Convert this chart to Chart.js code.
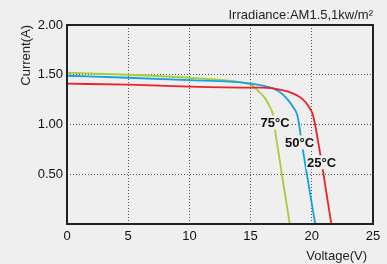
<!DOCTYPE html>
<html>
<head>
<meta charset="utf-8">
<script src="https://cdn.jsdelivr.net/npm/chart.js@4.4.1/dist/chart.umd.min.js"></script>
<style>
    html, body { margin: 0; padding: 0; background: #efefef; }
    #wrap { width: 387px; height: 264px; position: relative; }
</style>
</head>
<body>
<div id="wrap"><canvas id="ivChart"></canvas></div>
<script>
// I-V curves, voltage in V, current in A
const v25 = [0, 5, 10, 15, 16, 17.4, 18.5, 19.2, 19.7, 20.05, 20.25, 21.6];
const i25 = [1.41, 1.40, 1.38, 1.37, 1.37, 1.35, 1.31, 1.26, 1.19, 1.11, 1.01, 0];
const v50 = [0, 5, 10, 13.3, 15, 16, 16.9, 17.55, 18.1, 18.5, 18.8, 18.95, 19.1, 20.28];
const i50 = [1.49, 1.47, 1.445, 1.43, 1.41, 1.39, 1.36, 1.31, 1.24, 1.17, 1.10, 1.01, 0.88, 0];
const v75 = [0, 5, 10, 13.3, 14.4, 15.05, 15.6, 16.2, 16.6, 16.8, 17.06, 18.2];
const i75 = [1.52, 1.50, 1.47, 1.44, 1.42, 1.40, 1.34, 1.26, 1.17, 1.11, 0.89, 0];

const xTicks = [0, 5, 10, 15, 20, 25];
const yTicks = [0.5, 1.0, 1.5, 2.0];

const curveLabels = ['75°C', '50°C', '25°C'];
const labelV = [17.0, 19.0, 20.8];
const labelI = [1.02, 0.82, 0.62];

const titleText = 'Irradiance:AM1.5,1kw/m²';
const FONT = '"Liberation Sans", Arial, sans-serif';

function toPoints(vs, is) {
    return vs.map((v, k) => ({ x: v, y: is[k] }));
}

function curve(vs, is, color) {
    return {
        data: toPoints(vs, is),
        borderColor: color,
        borderWidth: 1.8,
        showLine: true,
        pointRadius: 0,
        cubicInterpolationMode: 'monotone',
        fill: false
    };
}

const framePlugin = {
    id: 'frame',
    afterDatasetsDraw(chart) {
        const { ctx, chartArea: a, scales } = chart;
        ctx.save();
        // curve labels with background patch
        ctx.font = 'bold 13px ' + FONT;
        ctx.textAlign = 'center';
        ctx.textBaseline = 'middle';
        curveLabels.forEach((t, k) => {
            const px = scales.x.getPixelForValue(labelV[k]);
            const py = scales.y.getPixelForValue(labelI[k]);
            const w = ctx.measureText(t).width;
            ctx.fillStyle = '#efefef';
            ctx.fillRect(px - w / 2 - 1, py - 7, w + 2, 14);
            ctx.fillStyle = '#111';
            ctx.fillText(t, px, py + 1);
        });
        // frame
        ctx.strokeStyle = '#222';
        ctx.lineWidth = 2;
        ctx.strokeRect(a.left, a.top, a.right - a.left, a.bottom - a.top);
        // titles
        ctx.font = '13px ' + FONT;
        ctx.fillStyle = '#222';
        ctx.textAlign = 'right';
        ctx.textBaseline = 'alphabetic';
        ctx.fillText(titleText, a.right, a.top - 6);
        ctx.textBaseline = 'middle';
        ctx.fillText('Voltage(V)', a.right - 6, 256);
        ctx.translate(26, a.top);
        ctx.rotate(-Math.PI / 2);
        ctx.fillText('Current(A)', 0, 0);
        ctx.restore();
    }
};

const ctx = document.getElementById('ivChart');
new Chart(ctx, {
    type: 'scatter',
    data: {
        datasets: [
            curve(v25, i25, 'rgb(236, 34, 40)'),
            curve(v50, i50, 'rgb(20, 160, 225)'),
            curve(v75, i75, 'rgb(165, 205, 60)')
        ]
    },
    options: {
        responsive: true,
        maintainAspectRatio: false,
        animation: false,
        layout: {
            padding: { top: 25, right: 14, left: 0, bottom: 0 }
        },
        plugins: {
            legend: { display: false },
            tooltip: { enabled: false }
        },
        scales: {
            x: {
                type: 'linear',
                min: 0,
                max: 25,
                afterBuildTicks: (scale) => { scale.ticks = xTicks.map(v => ({ value: v })); },
                afterFit: (scale) => { scale.height = 40; },
                ticks: {
                    color: '#111',
                    padding: 5,
                    font: { size: 13, family: FONT }
                },
                grid: {
                    color: (c) => (c.tick && (c.tick.value === 0 || c.tick.value === 25)) ? 'rgba(0,0,0,0)' : '#555',
                    lineWidth: 1,
                    drawTicks: false
                },
                border: { display: false, dash: [1, 2] }
            },
            y: {
                type: 'linear',
                min: 0,
                max: 2,
                afterBuildTicks: (scale) => { scale.ticks = yTicks.map(v => ({ value: v })); },
                afterFit: (scale) => { scale.width = 67; },
                ticks: {
                    color: '#111',
                    padding: 4,
                    font: { size: 13, family: FONT },
                    callback: (v) => v.toFixed(2)
                },
                grid: {
                    color: (c) => (c.tick && c.tick.value === 2) ? 'rgba(0,0,0,0)' : '#555',
                    lineWidth: 1,
                    drawTicks: false
                },
                border: { display: false, dash: [1, 2] }
            }
        }
    },
    plugins: [framePlugin]
});
</script>
</body>
</html>
